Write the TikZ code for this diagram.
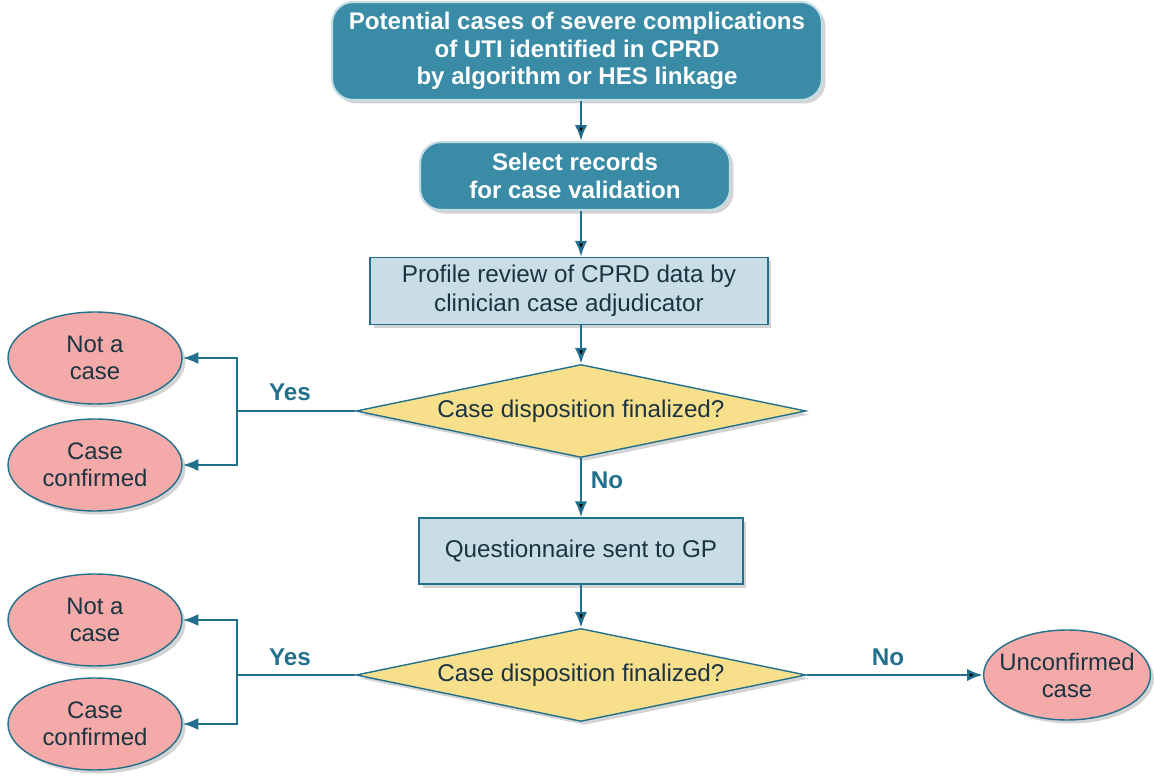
\documentclass[tikz,border=0pt]{standalone}
\usepackage{fontspec}
\setmainfont{Liberation Sans}
\usepackage{tikz}
\usetikzlibrary{shapes,shapes.geometric,shadows,arrows.meta}
\definecolor{tealdark}{HTML}{3A8BA6}
\definecolor{tealline}{HTML}{22708C}
\definecolor{boxlight}{HTML}{C9DDE6}
\definecolor{decfill}{HTML}{F7DF8C}
\definecolor{endfill}{HTML}{F4AAA9}
\definecolor{txtdark}{HTML}{1C3440}
\tikzset{every edge/.style={draw,-{Latex[length=9pt,width=7pt]}},
	arrowed/.style={-{Latex[length=9pt,width=7pt]}},
	shade it/.style={drop shadow={shadow xshift=2pt,shadow yshift=-2pt,opacity=0.35}}}
\tikzstyle{startbox}=[rectangle,rounded corners=12pt,draw=white!70!tealdark,line width=1.2pt,fill=tealdark,text=white,font=\fontsize{13.7}{15.6}\selectfont\bfseries,align=center,inner sep=0pt,shade it]
\tikzstyle{stepbox}=[rectangle,draw=tealline,thick,fill=boxlight,text=txtdark,font=\fontsize{13.8}{16.5}\selectfont,align=center,inner sep=0pt,shade it]
\tikzstyle{decision}=[diamond,draw=tealline,thick,fill=decfill,text=txtdark,font=\fontsize{13.8}{16}\selectfont,inner sep=0pt,aspect=4.84,minimum width=9cm,minimum height=1.86cm,shade it]
\tikzstyle{outcome}=[ellipse,draw=tealline,thick,fill=endfill,text=txtdark,font=\fontsize{13.6}{15.4}\selectfont,align=center,inner sep=0pt,minimum width=3.48cm,minimum height=1.84cm,shade it]
\tikzstyle{answer}=[text=tealline,font=\fontsize{13.8}{15}\selectfont\bfseries]
\tikzstyle{flow}=[draw=tealline,line width=1.4pt]

\begin{document}
\begin{tikzpicture}[x=0.02cm,y=-0.02cm]
	\useasboundingbox (0,0) rectangle (1154,776);
	\node at (577,51) [startbox,minimum width=9.8cm,minimum height=1.96cm] (top) {Potential cases of severe complications\\of UTI identified in CPRD\\by algorithm or HES linkage};
	\node at (575,176) [startbox,minimum width=6.2cm,minimum height=1.36cm] (select) {Select records\\for case validation};
	\node at (569,291) [stepbox,minimum width=7.96cm,minimum height=1.34cm] (review) {Profile review of CPRD data by\\clinician case adjudicator};
	\node at (581,411) [decision] (dec1) {Case disposition finalized?};
	\node at (581,551) [stepbox,minimum width=6.48cm,minimum height=1.32cm] (gp) {Questionnaire sent to GP};
	\node at (581,675) [decision] (dec2) {Case disposition finalized?};
	\node at (95,358) [outcome] (not1) {Not a\\case};
	\node at (95,465) [outcome] (conf1) {Case\\confirmed};
	\node at (95,620) [outcome] (not2) {Not a\\case};
	\node at (95,724) [outcome] (conf2) {Case\\confirmed};
	\node at (1067,675) [outcome,inner xsep=-5pt,minimum width=3.3cm,minimum height=1.8cm] (unconf) {Unconfirmed\\case};
	\coordinate (j1) at (237,411);
	\coordinate (j2) at (237,675);
	\node at (290,392) [answer] (yes1) {Yes};
	\node at (290,657) [answer] (yes2) {Yes};
	\node at (607,480) [answer] (no1) {No};
	\node at (888,657) [answer] (no2) {No};
	\draw[flow] (top.south -| dec1) edge (select.north -| dec1);
	\draw[flow] (select.south -| dec1) edge (review.north -| dec1);
	\draw[flow] (review.south -| dec1) edge (dec1.north);
	\draw[flow] (dec1) edge (gp);
	\draw[flow] (gp) edge (dec2);
	\draw[flow] (dec1.west) -- (j1);
	\draw[flow,arrowed] (j1) |- (not1.east);
	\draw[flow,arrowed] (j1) |- (conf1.east);
	\draw[flow] (dec2.west) -- (j2);
	\draw[flow,arrowed] (j2) |- (not2.east);
	\draw[flow,arrowed] (j2) |- (conf2.east);
	\draw[flow] (dec2.east) edge (unconf.west);
\end{tikzpicture}
\end{document}
